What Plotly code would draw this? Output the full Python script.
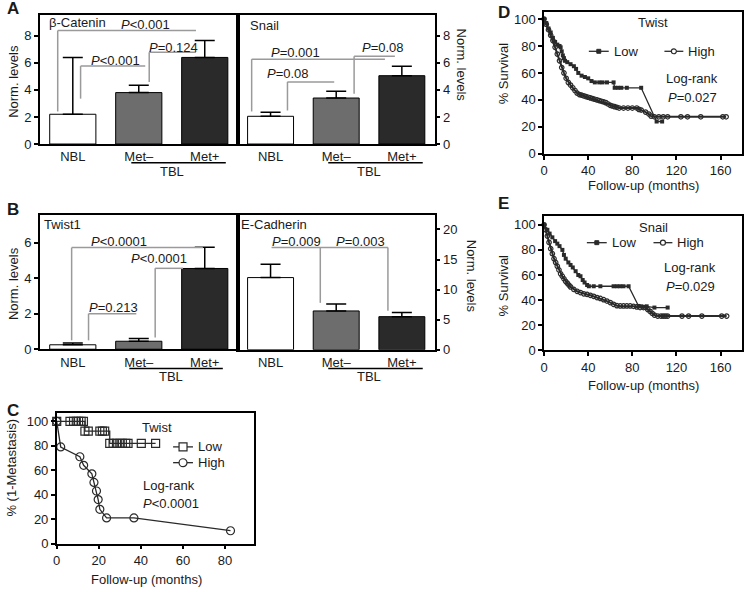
import plotly.graph_objects as go

W, H = 744, 593
FONT = "Liberation Sans, Arial, Helvetica, sans-serif"
TXT = "#1a1a1a"
GRAY = "#9a9a9a"

# ---------------- data: bar panels (A, B) ----------------
categories = ["NBL", "Met–", "Met+"]
bar_colors = ["#ffffff", "#6d6d6d", "#2a2a2a"]
beta_catenin = [2.2, 3.8, 6.4]
beta_catenin_upper = [6.4, 4.35, 7.65]
snail = [2.05, 3.4, 5.05]
snail_upper = [2.35, 3.9, 5.75]
twist1 = [0.25, 0.45, 4.55]
twist1_upper = [0.35, 0.6, 5.75]
ecadherin = [12.0, 6.45, 5.5]
ecadherin_upper = [14.2, 7.6, 6.2]

# ---------------- data: C (Twist, metastasis-free) ----------------
c_low_months = [0, 6.3, 8, 9.3, 10.4, 11.6, 12.7, 13.4, 15, 20.5, 21.7, 22.8,
                25.2, 26.8, 28.4, 30, 31.2, 32.8, 33.9, 40.2, 47]
c_low_pct = [100, 100, 100, 100, 100, 100, 100, 92, 92, 92, 92, 92,
             82, 82, 82, 82, 82, 82, 82, 82, 82]
c_high_months = [0, 1.9, 11, 12.8, 16.7, 17.7, 18.9, 19.7, 20.5, 23.7, 36.7, 82.6]
c_high_pct = [100, 79, 71, 64, 57, 50, 43, 36, 28, 21, 21, 10.5]

# ---------------- data: D (Twist, survival) ----------------
d_low_months = [0, 2, 4, 6, 8, 10, 12, 14, 15, 16, 17, 18, 19, 21, 24, 27, 29, 31,
                34, 37, 40, 43, 46, 50, 53, 57, 63, 64, 67, 70, 75, 88, 102, 107]
d_low_pct = [100, 97, 93, 90, 86, 83, 81, 80, 79, 76, 73, 71, 69, 68, 66.5, 65, 63, 60,
             58, 57, 56, 54, 53, 53, 53, 53, 53, 49, 49, 49, 49, 49, 24, 24]
d_high_months = [0, 2, 4, 6, 8, 10, 12, 14, 16, 18, 20, 22, 24, 26, 28, 30, 32, 34, 36,
                 38, 40, 42, 44, 46, 48, 50, 52, 54, 56, 58, 60, 62, 64, 66, 68, 72, 76,
                 80, 84, 86, 88, 92, 95, 97, 100, 104, 108, 112, 124, 130, 142, 162, 165]
d_high_pct = [100, 96, 92, 88, 84, 79, 74, 69, 64, 60, 56, 53, 51, 49, 47, 45, 44, 43.5, 43,
              42.5, 42, 41.5, 41, 40.5, 40, 39.5, 39, 38.5, 38, 37, 36, 35.5, 35, 34.5, 34, 34, 34,
              34, 34, 33, 32.5, 31, 29.5, 28, 27.5, 27.5, 27.5, 27.5, 27.5, 27.5, 27.5, 27.5, 27.5]

# ---------------- data: E (Snail, survival) ----------------
e_low_months = [0, 3, 5, 7.5, 10, 12, 14, 16.6, 18, 19.6, 22, 24, 26, 28.6, 31, 33, 35,
                36.7, 39, 40.6, 45, 51, 63, 66, 69, 72, 76.6, 85.6, 88, 93, 100, 112]
e_low_pct = [100, 96, 93, 90, 87, 85, 83, 80, 76, 73, 70, 68, 66, 63, 60, 59, 56,
             54, 52, 51, 51, 51, 51, 51, 51, 51, 51, 35.3, 35, 35, 34, 34]
e_high_months = [0, 1.5, 3, 4.5, 6, 7.5, 9, 10.5, 12, 13.5, 15, 16.5, 18, 19.5, 21, 22.5,
                 24, 27, 30, 33, 36, 39, 42, 45, 48, 51, 54, 57, 60, 63, 66, 69, 72, 75,
                 78, 81, 84, 87, 90, 92, 94, 96, 98, 100, 103, 106, 108, 110, 112, 125,
                 131, 143, 161, 165.5]
e_high_pct = [100, 96, 91, 86, 81, 77, 73, 70, 67, 64, 61, 59, 57, 55, 53.5, 52,
              50.5, 48.5, 47, 46, 45, 44.5, 43.8, 43, 42, 41.3, 40.3, 39.2, 38, 36.6, 35.5, 35.3, 35.3, 35.3,
              35.3, 35, 34.5, 34, 34, 34, 32.5, 31, 29.5, 28, 27.2, 27.2, 27.2, 27.2, 27.2, 27.2,
              27.2, 27.2, 27.2, 27.2]


def fx(v):
    return v / W


def fy(v):
    return 1 - v / H


fig = go.Figure()

axis_common = dict(showline=True, linecolor="black", linewidth=1.5, mirror=True,
                   showgrid=False, zeroline=False,
                   tickfont=dict(size=13, color=TXT, family=FONT))

# ---------------- bar panels ----------------
bar_panels = [
    dict(ax="", vals=beta_catenin, upper=beta_catenin_upper, xd=(36, 235), yd=(15, 146), yr=9.55, dtick=2, side="left"),
    dict(ax="2", vals=snail, upper=snail_upper, xd=(235, 433), yd=(15, 146), yr=9.55, dtick=2, side="right"),
    dict(ax="3", vals=twist1, upper=twist1_upper, xd=(36, 235), yd=(218, 354), yr=7.56, dtick=2, side="left"),
    dict(ax="4", vals=ecadherin, upper=ecadherin_upper, xd=(235, 433), yd=(218, 354.5), yr=22.4, dtick=5, side="right"),
]
layout_axes = {}
for p in bar_panels:
    a = p["ax"]
    fig.add_trace(go.Bar(
        x=categories, y=p["vals"], width=0.7,
        marker=dict(color=bar_colors, line=dict(color="black", width=1)),
        error_y=dict(type="data", symmetric=False,
                     array=[u - v for u, v in zip(p["upper"], p["vals"])],
                     arrayminus=[0] * len(p["vals"]),
                     color="black", thickness=1.5, width=10),
        xaxis="x" + a, yaxis="y" + a, showlegend=False, hoverinfo="skip"))
    layout_axes["xaxis" + a] = dict(axis_common, domain=[fx(p["xd"][0]), fx(p["xd"][1])],
                                    range=[-0.5, 2.5], ticks="", anchor="y" + a)
    layout_axes["yaxis" + a] = dict(axis_common, domain=[fy(p["yd"][1]), fy(p["yd"][0])],
                                    range=[0, p["yr"]], dtick=p["dtick"], ticks="outside",
                                    ticklen=4, tickwidth=1.5, tickcolor="black",
                                    side=p["side"], anchor="x" + a)

# ---------------- KM panels ----------------
km_panels = [
    dict(ax="5", xd=(53, 251), yd=(419, 551), xr=(0, 93.6), yr=(0, 106.5), xdt=20),
    dict(ax="6", xd=(543, 742), yd=(12, 156), xr=(0, 179.4), yr=(0, 105.3), xdt=40),
    dict(ax="7", xd=(543, 742), yd=(219, 355), xr=(0, 179.4), yr=(0, 107), xdt=40),
]
for p in km_panels:
    a = p["ax"]
    layout_axes["xaxis" + a] = dict(axis_common, domain=[fx(p["xd"][0]), fx(p["xd"][1])],
                                    range=list(p["xr"]), dtick=p["xdt"], ticks="outside",
                                    ticklen=4, tickwidth=1.5, tickcolor="black", anchor="y" + a)
    layout_axes["yaxis" + a] = dict(axis_common, domain=[fy(p["yd"][1]), fy(p["yd"][0])],
                                    range=list(p["yr"]), dtick=20, ticks="outside",
                                    ticklen=4, tickwidth=1.5, tickcolor="black", anchor="x" + a)

LC = "#2a2a2a"
C_LOW_MK = dict(symbol="square-open", size=8, color=LC, line=dict(width=1.2))
C_HIGH_MK = dict(symbol="circle-open", size=8, color=LC, line=dict(width=1.2))
S_LOW_MK = dict(symbol="square", size=4, color=LC)
S_HIGH_MK = dict(symbol="circle-open", size=4.5, color=LC, line=dict(width=1.2))

fig.add_trace(go.Scatter(x=c_low_months, y=c_low_pct, mode="lines+markers", name="Low",
                         line=dict(color=LC, width=1.3, shape="hv"), marker=C_LOW_MK,
                         xaxis="x5", yaxis="y5", showlegend=False, cliponaxis=False))
fig.add_trace(go.Scatter(x=c_high_months, y=c_high_pct, mode="lines+markers", name="High",
                         line=dict(color=LC, width=1.3), marker=C_HIGH_MK,
                         xaxis="x5", yaxis="y5", showlegend=False, cliponaxis=False))

for a, lm, lp, hm, hp in [("6", d_low_months, d_low_pct, d_high_months, d_high_pct),
                          ("7", e_low_months, e_low_pct, e_high_months, e_high_pct)]:
    fig.add_trace(go.Scatter(x=lm, y=lp, mode="lines+markers", name="Low",
                             line=dict(color=LC, width=1.3), marker=S_LOW_MK,
                             xaxis="x" + a, yaxis="y" + a, showlegend=False, cliponaxis=False))
    fig.add_trace(go.Scatter(x=hm, y=hp, mode="lines+markers", name="High",
                             line=dict(color=LC, width=2), marker=S_HIGH_MK,
                             xaxis="x" + a, yaxis="y" + a, showlegend=False, cliponaxis=False))

# ---------------- significance brackets (pixel positions) ----------------
bracket_specs = [
    dict(h=(54, 193, 31), drops=[(54, 113)], labels=[("<i>P</i>&lt;0.001", 142, 24.5)]),
    dict(h=(77, 142, 67), drops=[(77, 100)], labels=[("<i>P</i>&lt;0.001", 112, 61)]),
    dict(h=(146, 193, 53), drops=[(146, 83)], labels=[("<i>P</i>=0.124", 170, 47.7)]),
    dict(h=(249, 383, 60), drops=[(249, 113)], labels=[("<i>P</i>=0.001", 293, 53)]),
    dict(h=(285, 332, 83), drops=[(285, 112)], labels=[("<i>P</i>=0.08", 286, 74)]),
    dict(h=(352, 393, 57), drops=[(352, 95)], labels=[("<i>P</i>=0.08", 381, 48)]),
    dict(h=(68, 200, 251), drops=[(68, 345)], labels=[("<i>P</i>&lt;0.0001", 116, 245)]),
    dict(h=(152, 180, 272), drops=[(152, 342)], labels=[("<i>P</i>&lt;0.0001", 156, 262)]),
    dict(h=(85, 133, 318), drops=[(85, 345)], labels=[("<i>P</i>=0.213", 110, 311.7)]),
    dict(h=(269, 386, 251), drops=[(318, 307), (386, 315)],
         labels=[("<i>P</i>=0.009", 294, 244.5), ("<i>P</i>=0.003", 358, 244.5)]),
]
shapes = []
annotations = []


def text(t, x, y, size=13, xanchor="center", angle=0, bold=False):
    annotations.append(dict(text=("<b>%s</b>" % t) if bold else t, x=fx(x), y=fy(y),
                            xref="paper", yref="paper", showarrow=False,
                            xanchor=xanchor, yanchor="middle", textangle=angle,
                            font=dict(size=size, color=TXT, family=FONT)))


def seg(x0, y0, x1, y1, color=GRAY, width=1.5):
    shapes.append(dict(type="line", xref="paper", yref="paper", x0=fx(x0), x1=fx(x1),
                       y0=fy(y0), y1=fy(y1), line=dict(color=color, width=width)))


for b in bracket_specs:
    x0, x1, yl = b["h"]
    seg(x0, yl, x1, yl)
    for dx, dy in b["drops"]:
        seg(dx, yl, dx, dy)
    for t, cx, cy in b["labels"]:
        text(t, cx, cy)

# TBL underlines and labels
for (u0, u1, uy, tx, ty) in [(128, 223, 165, 169, 173.5), (326, 421, 165, 367, 173.5),
                             (126, 220, 373.5, 168, 382), (326, 421, 373.5, 367, 382)]:
    seg(u0, uy, u1, uy, color="black")
    text("TBL", tx, ty)


# ---------------- legend keys (drawn) ----------------
def key(x0, x1, y, marker, label, size):
    seg(x0, y, x1, y, color=LC, width=1.3)
    cx = (x0 + x1) / 2
    h = size / 2
    if marker == "square-open":
        shapes.append(dict(type="rect", xref="paper", yref="paper", x0=fx(cx - h), x1=fx(cx + h),
                           y0=fy(y + h), y1=fy(y - h), line=dict(color=LC, width=1.2), fillcolor="white"))
    elif marker == "square":
        shapes.append(dict(type="rect", xref="paper", yref="paper", x0=fx(cx - h), x1=fx(cx + h),
                           y0=fy(y + h), y1=fy(y - h), line=dict(color=LC, width=1), fillcolor=LC))
    else:
        shapes.append(dict(type="circle", xref="paper", yref="paper", x0=fx(cx - h), x1=fx(cx + h),
                           y0=fy(y + h), y1=fy(y - h), line=dict(color=LC, width=1.2), fillcolor="white"))
    text(label, x1 + 3, y, xanchor="left")


key(170, 190, 453, "square-open", "Low", 8)
key(170, 190, 469, "circle-open", "High", 8)
key(588, 608, 52, "square", "Low", 4)
key(664, 683, 52, "circle-open", "High", 5)
key(586, 606, 246, "square", "Low", 4)
key(653, 672, 246, "circle-open", "High", 5)

# panel letters
for t, x, y in [("A", 9, 9), ("B", 9, 212), ("C", 9, 416), ("D", 503, 13), ("E", 502, 206)]:
    text(t, x, y, size=17, bold=True)

# panel titles
text("β-Catenin", 43, 23, xanchor="left")
text("Snail", 245, 26, xanchor="left")
text("Twist1", 38, 228, xanchor="left")
text("E-Cadherin", 236, 228, xanchor="left")

# axis titles
text("Norm. levels", 10, 82, angle=-90)
text("Norm. levels", 460, 66, angle=90)
text("Norm. levels", 9, 287, angle=-90)
text("Norm. levels", 470, 280, angle=90)
text("% (1-Metastasis)", 8, 474, angle=-90)
text("Follow-up (months)", 143, 587)
text("% Survival", 502, 74, angle=-90)
text("Follow-up (months)", 643, 188)
text("% Survival", 502, 289, angle=-90)
text("Follow-up (months)", 643, 391)

# KM inner texts
text("Twist", 154, 433)
text("Log-rank", 166, 492)
text("<i>P</i>&lt;0.0001", 168, 510)
text("Twist", 653, 23)
text("Log-rank", 692, 80)
text("<i>P</i>=0.027", 692, 99)
text("Snail", 653, 231)
text("Log-rank", 690, 271)
text("<i>P</i>=0.029", 690, 290)

fig.update_layout(
    width=W, height=H, autosize=False,
    margin=dict(l=0, r=0, t=0, b=0, pad=0),
    paper_bgcolor="white", plot_bgcolor="white",
    font=dict(family=FONT, size=13, color=TXT),
    showlegend=False,
    shapes=shapes, annotations=annotations,
    **layout_axes,
)

fig.write_html("out.html", config={"displayModeBar": False},
               post_script="document.body.style.margin='0';")
